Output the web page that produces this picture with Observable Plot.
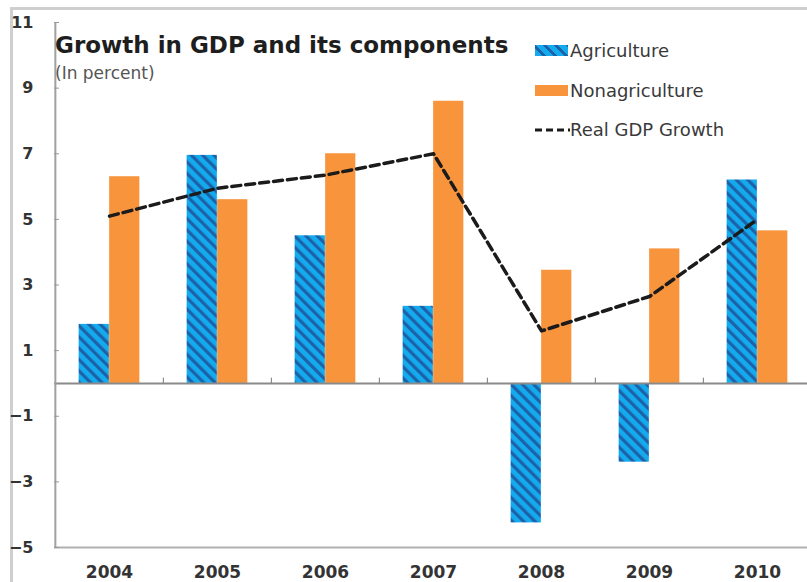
<!DOCTYPE html>
<html>
<head>
<meta charset="utf-8">
<script src="https://cdn.jsdelivr.net/npm/d3@7"></script>
<script src="https://cdn.jsdelivr.net/npm/@observablehq/plot@0.6"></script>
<style>
  html, body { margin: 0; padding: 0; background: #fff; overflow: hidden; }
  #wrap { position: relative; width: 807px; height: 582px; overflow: hidden; background: #fff; font-family: "DejaVu Sans", sans-serif; }
  #wrap svg.chart { position: absolute; left: 0; top: 0; }
  .frame { position: absolute; left: 10px; top: 7px; width: 820px; height: 600px; border-left: 3px solid #cfcfcf; border-top: 3px solid #cfcfcf; }
  .title { position: absolute; left: 55px; top: 34px; font-size: 23px; line-height: 23px; font-weight: bold; color: #1e1e1e; white-space: nowrap; }
  .subtitle { position: absolute; left: 55px; top: 65px; font-size: 17px; line-height: 17px; color: #555; white-space: nowrap; }
  .leg { position: absolute; left: 570px; font-size: 18px; line-height: 18px; color: #3a3a3a; white-space: nowrap; }
  .sw { position: absolute; left: 535px; width: 33px; height: 11px; }
  .sw.agri { background: repeating-linear-gradient(45deg, #14aaee 0px, #14aaee 5px, #1d62a8 5px, #1d62a8 8px); }
  .sw.nonag { background: #f7943c; }
</style>
</head>
<body>
<div id="wrap">
  <div class="frame"></div>
</div>
<script>
// ---- data ----
const years = ["2004", "2005", "2006", "2007", "2008", "2009", "2010"];
const agriculture = [1.8, 6.95, 4.5, 2.35, -4.25, -2.4, 6.2];
const nonagriculture = [6.3, 5.6, 7.0, 8.6, 3.45, 4.1, 4.65];
const realGdpGrowth = [5.1, 5.95, 6.35, 7.0, 1.6, 2.65, 5.0];
const yTicks = [-5, -3, -1, 1, 3, 5, 7, 9, 11];
const seriesNames = ["Agriculture", "Nonagriculture", "Real GDP Growth"];
const titleText = "Growth in GDP and its components";
const subtitleText = "(In percent)";

const rows = years.map((year, i) => ({
  year,
  agriculture: agriculture[i],
  nonagriculture: nonagriculture[i],
  gdp: realGdpGrowth[i]
}));

const W = 807, H = 582;
const xRange = [54, 812];
const half = (xRange[1] - xRange[0]) / years.length / 2;
const barW = 30.5;

const chart = Plot.plot({
  width: W,
  height: H,
  marginLeft: 54,
  marginRight: W - xRange[1],
  marginTop: 22,
  marginBottom: 35,
  style: { fontFamily: "DejaVu Sans, sans-serif", fontWeight: "bold", color: "#333", background: "transparent" },
  x: { type: "band", domain: years, range: xRange, padding: 0, label: null },
  y: { domain: [-5, 11], range: [547, 22], label: null },
  marks: [
    Plot.barY(rows, { x: "year", y: "agriculture", fill: "url(#agriStripes)", insetLeft: half - barW, insetRight: half }),
    Plot.barY(rows, { x: "year", y: "nonagriculture", fill: "#f7943c", insetLeft: half, insetRight: half - barW }),
    Plot.ruleY([0], { stroke: "#8a8a8a", strokeWidth: 2 }),
    Plot.ruleY([-5], { stroke: "#b0b0b0", strokeWidth: 2 }),
    Plot.ruleX([years[0]], { dx: -half, stroke: "#a0a0a0", strokeWidth: 2 }),
    Plot.ruleX(years.slice(1), { y1: 0, y2: 0.16, dx: -half, stroke: "#777", strokeWidth: 1 }),
    Plot.line(rows, { x: "year", y: "gdp", stroke: "#1b1b1b", strokeWidth: 3.5, strokeDasharray: "9,5" }),
    Plot.axisY({ ticks: yTicks, tickSize: 5, dx: 5, tickFormat: () => "", stroke: "#999" }),
    Plot.axisY({ ticks: yTicks, tickSize: 0, tickPadding: 21, fontSize: 16, fill: "#333" }),
    Plot.axisX({ tickSize: 0, tickPadding: 18, fontSize: 17, fill: "#333" })
  ]
});
chart.classList.add("chart");

// pattern for the hatched agriculture bars
const defs = d3.create("svg:defs");
const pat = defs.append("pattern")
  .attr("id", "agriStripes")
  .attr("patternUnits", "userSpaceOnUse")
  .attr("width", 8).attr("height", 8)
  .attr("patternTransform", "rotate(-45)");
pat.append("rect").attr("width", 8).attr("height", 8).attr("fill", "#14aaee");
pat.append("rect").attr("width", 3.2).attr("height", 8).attr("fill", "#1d62a8");
chart.insertBefore(defs.node(), chart.firstChild);

const wrap = document.getElementById("wrap");
wrap.appendChild(chart);

function addDiv(cls, text, top) {
  const d = document.createElement("div");
  d.className = cls;
  if (text) d.textContent = text;
  if (top !== undefined) d.style.top = top + "px";
  wrap.appendChild(d);
  return d;
}
addDiv("title", titleText);
addDiv("subtitle", subtitleText);
// legend
addDiv("sw agri", null, 45);
addDiv("leg", seriesNames[0], 42);
addDiv("sw nonag", null, 85);
addDiv("leg", seriesNames[1], 82);
const dash = document.createElementNS("http://www.w3.org/2000/svg", "svg");
dash.setAttribute("width", 36); dash.setAttribute("height", 6);
dash.style.position = "absolute"; dash.style.left = "534px"; dash.style.top = "127px";
const ln = document.createElementNS("http://www.w3.org/2000/svg", "line");
ln.setAttribute("x1", 1); ln.setAttribute("x2", 36); ln.setAttribute("y1", 3); ln.setAttribute("y2", 3);
ln.setAttribute("stroke", "#1b1b1b"); ln.setAttribute("stroke-width", 3); ln.setAttribute("stroke-dasharray", "7,4");
dash.appendChild(ln);
wrap.appendChild(dash);
addDiv("leg", seriesNames[2], 121);
</script>
</body>
</html>
